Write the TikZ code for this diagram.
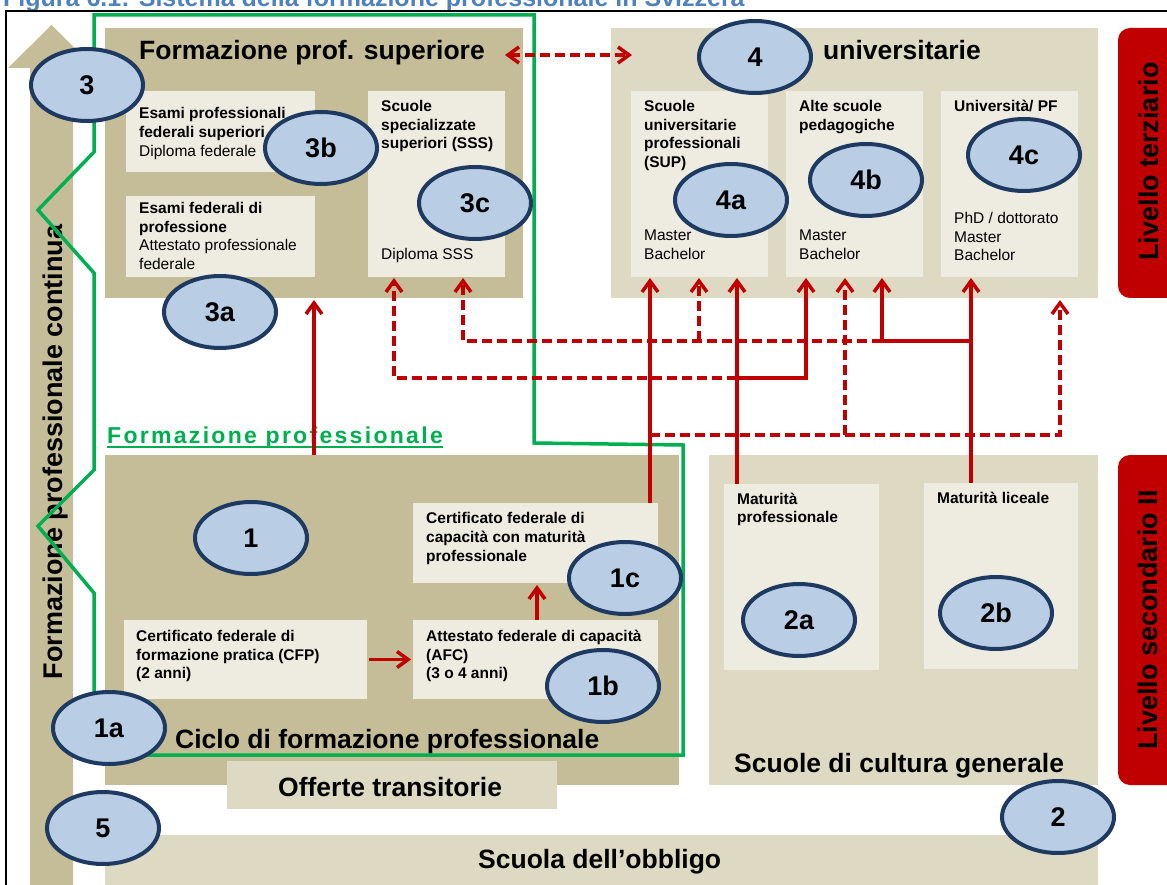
\documentclass[tikz,border=0pt]{standalone}
\usepackage{fontspec}
\setmainfont{Liberation Sans}
\newfontfamily\spacedsans{Liberation Sans}[LetterSpace=10]
\usetikzlibrary{arrows.meta,shapes.geometric}
\definecolor{tanD}{HTML}{C4BD97}
\definecolor{tanL}{HTML}{DDD9C3}
\definecolor{innerC}{HTML}{EEECE1}
\definecolor{ellF}{HTML}{B9CDE5}
\definecolor{ellB}{HTML}{1F3A60}
\definecolor{redA}{HTML}{C00000}
\definecolor{greenA}{HTML}{00B050}
\definecolor{blueT}{HTML}{4F81BD}
\newcommand{\myfs}[1]{\fontsize{#1}{#1}\selectfont}
\tikzset{
 box/.style={anchor=north west, inner sep=0pt, outer sep=0pt, draw=none},
 dbox/.style={box, fill=tanD},
 lbox/.style={box, fill=tanL},
 ibox/.style={box, fill=innerC},
 redbox/.style={box, fill=redA, rounded corners=12pt},
 num/.style={ellipse, fill=ellF, draw=ellB, line width=4pt, inner sep=0pt,
   minimum width=112pt, minimum height=72pt, font=\bfseries\myfs{27}},
 big/.style={anchor=base west, inner sep=0pt, font=\bfseries\myfs{26.5}},
 vlabel/.style={rotate=90, anchor=base, inner sep=0pt, font=\bfseries\myfs{27}},
 small/.style={anchor=north west, inner sep=0pt, align=left, font=\fontsize{15.5}{18.7}\selectfont},
 rl/.style={draw=redA, line width=3.5pt},
 ra/.style={rl, -{Straight Barb[length=11pt,width=16pt]}},
 rda/.style={rl, {Straight Barb[length=11pt,width=16pt]}-{Straight Barb[length=11pt,width=16pt]}},
 dsh/.style={dash pattern=on 10pt off 5pt},
 gline/.style={draw=greenA, line width=3.5pt},
}
\begin{document}
\begin{tikzpicture}[x=1pt,y=-1pt]
\useasboundingbox (0,0) rectangle (1167,885);
\fill[white] (0,0) rectangle (1167,885);

% title (cut off at the top)
\node[anchor=base west, inner sep=0pt, font=\bfseries\myfs{25}, text=blueT] (title) at (3,7)
  {Figura 6.1: Sistema della formazione professionale in Svizzera};

% frame
\draw[line width=1.2pt] (6,895) -- (6,11) -- (1180,11);

% left arrow
\fill[tanD] (30,892) -- (30,68) -- (8,68) -- (51.5,25) -- (95,68) -- (73,68) -- (73,892) -- cycle;
\node[vlabel] (fpc) at (62,452) {Formazione professionale continua};

% main boxes
\node[dbox, minimum width=418pt, minimum height=270pt] (supbox) at (105,28) {};
\node[lbox, minimum width=487pt, minimum height=270pt] (unibox) at (611,28) {};
\node[dbox, minimum width=574pt, minimum height=330pt] (ciclo) at (105,455) {};
\node[lbox, minimum width=389pt, minimum height=330pt] (cultura) at (709,455) {};
\node[lbox, minimum width=330pt, minimum height=48pt] (offerte) at (227,761) {};
\node[lbox, minimum width=993pt, minimum height=60pt] (obbligo) at (105,835) {};
\node[redbox, minimum width=70pt, minimum height=270pt] (terz) at (1118,28) {};
\node[redbox, minimum width=70pt, minimum height=330pt] (sec) at (1118,455) {};

% inner boxes
\node[ibox, minimum width=189pt, minimum height=81pt] (efs) at (126,91) {};
\node[ibox, minimum width=189pt, minimum height=81pt] (efp) at (126,196) {};
\node[ibox, minimum width=137pt, minimum height=186pt] (sss) at (368,91) {};
\node[ibox, minimum width=137pt, minimum height=186pt] (sup) at (631,91) {};
\node[ibox, minimum width=137pt, minimum height=186pt] (asp) at (786,91) {};
\node[ibox, minimum width=137pt, minimum height=186pt] (upf) at (941,91) {};
\node[ibox, minimum width=155pt, minimum height=186pt] (matp) at (724,484) {};
\node[ibox, minimum width=154pt, minimum height=186pt] (matl) at (924,483) {};
\node[ibox, minimum width=245pt, minimum height=80pt] (cfm) at (413,503) {};
\node[ibox, minimum width=243pt, minimum height=79pt] (cfp) at (124,620) {};
\node[ibox, minimum width=245pt, minimum height=79pt] (afc) at (413,620) {};

% big labels
\node[big] (tsup) at (139,59.5) {Formazione prof. superiore};
\node[big] (tuni) at (823,59.5) {universitarie};
\node[big] (tciclo) at (175,748) {Ciclo di formazione professionale};
\node[big] (toff) at (278,796) {Offerte transitorie};
\node[big] (tobb) at (478,868) {Scuola dell’obbligo};
\node[big] (tcult) at (734,772) {Scuole di cultura generale};
\node[vlabel] (tterz) at (1158,161.5) {Livello terziario};
\node[vlabel] (tsec) at (1157,620) {Livello secondario II};
\node[anchor=base west, inner sep=0pt, text=greenA, font=\spacedsans\bfseries\myfs{23}] (tfp) at (107,443) {Formazione professionale};
\draw[greenA, line width=2pt] ([yshift=-4pt]tfp.base west) -- ([yshift=-4pt]tfp.base east);

% small texts
\node[small] (xefs) at (139,107.5) {\textbf{Esami professionali}\\\textbf{federali superiori}\\Diploma federale};
\node[small] (xefp) at (139,202) {\textbf{Esami federali di}\\\textbf{professione}\\Attestato professionale\\federale};
\node[small] (xsss) at (381,100) {\textbf{Scuole}\\\textbf{specializzate}\\\textbf{superiori (SSS)}};
\node[small] (xsss2) at (381,248) {Diploma SSS};
\node[small] (xsup) at (644,100) {\textbf{Scuole}\\\textbf{universitarie}\\\textbf{professionali}\\\textbf{(SUP)}};
\node[small] (xsup2) at (644,230) {Master\\Bachelor};
\node[small] (xasp) at (799,100) {\textbf{Alte scuole}\\\textbf{pedagogiche}};
\node[small] (xasp2) at (799,230) {Master\\Bachelor};
\node[small] (xupf) at (954,100) {\textbf{Università/ PF}};
\node[small] (xupf2) at (954,212) {PhD / dottorato\\Master\\Bachelor};
\node[small] (xcfm) at (426,512.5) {\textbf{Certificato federale di}\\\textbf{capacità con maturità}\\\textbf{professionale}};
\node[small] (xcfp) at (136,630) {\textbf{Certificato federale di}\\\textbf{formazione pratica (CFP)}\\\textbf{(2 anni)}};
\node[small] (xafc) at (426,630) {\textbf{Attestato federale di capacità}\\\textbf{(AFC)}\\\textbf{(3 o 4 anni)}};
\node[small] (xmatp) at (737,492.5) {\textbf{Maturità}\\\textbf{professionale}};
\node[small] (xmatl) at (937,491.5) {\textbf{Maturità liceale}};

% green outline
\draw[gline] (94,700) -- (94,593) -- (38,526) -- (94,470) -- (94,273) -- (38,210) -- (94,152)
  -- (94,15) -- (534,15) -- (534,443) -- (683,445) -- (683,755) -- (94,755) -- cycle;

% helper coordinates for connectors
\coordinate (r1) at (0,341);
\coordinate (r2) at (0,378);
\coordinate (r3) at (0,435);
\coordinate (ca) at (650,0);
\coordinate (cb) at (699,0);
\coordinate (cc) at (737,0);
\coordinate (cd) at (806,0);
\coordinate (ce) at (845,0);
\coordinate (cf) at (882,0);
\coordinate (cg) at (971,0);
\coordinate (ch) at (1060,0);
\coordinate (ci) at (394,0);
\coordinate (cj) at (463,0);
\coordinate (ck) at (537,0);
\coordinate (dl) at (505,55);
\coordinate (dr) at (632,55);

% dashed connectors
\draw[ra,dsh] (cc |- r2) -- (ci |- r2) -- ([yshift=-1pt]sss.south -| ci);
\draw[ra,dsh] (cf |- r1) -- (cj |- r1) -- ([yshift=-1pt]sss.south -| cj);
\draw[ra,dsh] (cb |- r1) -- ([yshift=-1pt]sup.south -| cb);
\draw[ra,dsh] (ca |- r3) -- (ch |- r3) -- ([yshift=-2pt]ch |- unibox.south);
\draw[ra,dsh] (ce |- r3) -- ([yshift=-1pt]asp.south -| ce);
\draw[rda,dsh] (dl) -- (dr);

% solid connectors
\draw[ra] (cfm.north -| ca) -- ([yshift=-1pt]sup.south -| ca);
\draw[ra] (matp.north -| cc) -- ([yshift=-1pt]sup.south -| cc);
\draw[ra] (cc |- r2) -| ([yshift=-1pt]asp.south -| cd);
\draw[ra] (matl.north -| cg) -- ([yshift=-1pt]upf.south -| cg);
\draw[ra] (cg |- r1) -| ([yshift=-1pt]asp.south -| cf);
\draw[ra] (ciclo.north -| supbox.south) -- ([yshift=-2pt]supbox.south);
\draw[ra, shorten <=2pt, shorten >=2pt] (cfp.east) -- (afc.west);
\draw[ra] (afc.north -| ck) -- ([yshift=-2pt]cfm.south -| ck);

% numbered ellipses
\node[num] (n3) at (87,85) {3};
\node[num] (n3b) at (321,148) {3b};
\node[num] (n3c) at (475,203) {3c};
\node[num] (n3a) at (220,312) {3a};
\node[num] (n4) at (755,57) {4};
\node[num] (n4a) at (731,200) {4a};
\node[num] (n4b) at (866,180) {4b};
\node[num] (n4c) at (1024,155) {4c};
\node[num] (n1) at (251,538) {1};
\node[num] (n1c) at (625,578) {1c};
\node[num] (n1b) at (603,686) {1b};
\node[num] (n1a) at (109,728) {1a};
\node[num] (n5) at (103,828) {5};
\node[num] (n2a) at (799,620) {2a};
\node[num] (n2b) at (996,613) {2b};
\node[num] (n2) at (1058,817) {2};
\end{tikzpicture}
\end{document}
